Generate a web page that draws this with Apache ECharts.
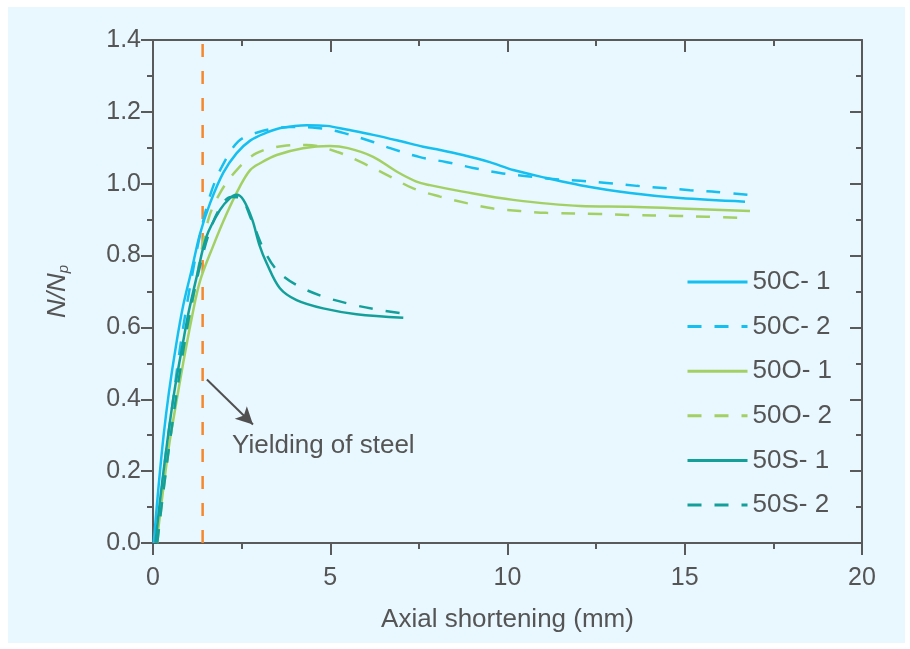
<!DOCTYPE html>
<html>
<head>
<meta charset="utf-8">
<script src="https://cdn.jsdelivr.net/npm/echarts@6/dist/echarts.min.js"></script>
<style>
  html, body { margin: 0; padding: 0; background: #ffffff; }
  #chart { width: 910px; height: 649px; }
</style>
</head>
<body>
<div id="chart"></div>
<script>
// Load ratio N/Np versus axial shortening (mm) for the six specimens
const seriesNames = ['50C- 1', '50C- 2', '50O- 1', '50O- 2', '50S- 1', '50S- 2'];

const c50_1 = [[0.02,0],[0.15,0.15],[0.3,0.3],[0.45,0.42],[0.65,0.55],[0.85,0.66],[1.09,0.76],[1.33,0.862],[1.61,0.946],[1.98,1.03],[2.36,1.085],[2.74,1.12],[3.2,1.142],[3.6,1.155],[4.34,1.163],[4.9,1.161],[5.5,1.15],[6.21,1.136],[7.0,1.118],[7.62,1.103],[8.1,1.094],[8.74,1.08],[9.5,1.06],[10.16,1.038],[11.1,1.016],[12.05,0.996],[13.46,0.974],[14.87,0.96],[16.7,0.95]];
const c50_2 = [[0.1,0],[0.25,0.15],[0.4,0.28],[0.53,0.37],[0.7,0.5],[0.9,0.63],[1.15,0.77],[1.4,0.89],[1.66,0.982],[1.94,1.047],[2.4,1.117],[2.92,1.142],[3.86,1.158],[4.63,1.155],[5.27,1.144],[6.21,1.116],[6.69,1.099],[7.53,1.074],[8.29,1.06],[9.03,1.044],[9.79,1.03],[10.55,1.021],[11.28,1.013],[12.05,1.008],[12.8,1.002],[13.65,0.994],[14.39,0.988],[15.15,0.982],[15.9,0.977],[16.9,0.968]];
const o50_1 = [[0.1,0],[0.25,0.12],[0.45,0.27],[0.62,0.37],[0.85,0.5],[1.1,0.63],[1.33,0.73],[1.69,0.825],[2.08,0.917],[2.45,0.992],[2.74,1.038],[3.02,1.057],[3.49,1.08],[4.23,1.099],[4.99,1.105],[5.5,1.099],[6.21,1.075],[6.87,1.034],[7.43,1.006],[7.81,0.996],[8.74,0.978],[10.16,0.955],[12.05,0.938],[13.46,0.936],[14.87,0.931],[16.84,0.924]];
const o50_2 = [[0.12,0],[0.3,0.15],[0.5,0.3],[0.7,0.43],[0.95,0.57],[1.2,0.72],[1.56,0.9],[1.89,0.974],[2.36,1.038],[2.92,1.085],[3.67,1.105],[4.34,1.108],[5.18,1.089],[5.93,1.057],[6.69,1.02],[7.34,0.987],[8.1,0.964],[8.85,0.946],[9.6,0.931],[10.35,0.924],[11.1,0.919],[12.61,0.916],[13.36,0.913],[14.87,0.91],[15.62,0.908],[16.8,0.904]];
const s50_1 = [[0.07,0],[0.2,0.12],[0.4,0.28],[0.6,0.42],[0.85,0.56],[1.0,0.64],[1.23,0.74],[1.51,0.853],[1.89,0.927],[2.15,0.958],[2.36,0.969],[2.55,0.955],[2.8,0.9],[3.0,0.83],[3.21,0.778],[3.58,0.709],[4.05,0.676],[4.8,0.653],[5.74,0.637],[7.06,0.627]];
const s50_2 = [[0.12,0],[0.3,0.15],[0.5,0.3],[0.75,0.47],[1.0,0.62],[1.3,0.76],[1.61,0.871],[1.94,0.941],[2.2,0.963],[2.45,0.961],[2.78,0.899],[3.11,0.82],[3.49,0.76],[4.05,0.718],[4.8,0.686],[5.56,0.665],[6.31,0.65],[7.2,0.637]];

// Steel yielding reference line and its annotation
const yieldX = 1.4;
const yieldLine = [[yieldX, 0], [yieldX, 1.4]];
const arrowFrom = [1.52, 0.455];
const arrowTo = [2.82, 0.33];
const noteAt = [2.23, 0.27];
const noteText = 'Yielding of steel';

const seriesData = [c50_1, c50_2, o50_1, o50_2, s50_1, s50_2];
const seriesColors = ['#15bff0', '#15bff0', '#a3d064', '#a3d064', '#13a09b', '#13a09b'];
const seriesDashed = [false, true, false, true, false, true];

const FONT = '"Liberation Sans", Arial, Helvetica, sans-serif';
const AXIS_COLOR = '#5a5a5a';
const TEXT_COLOR = '#555555';
const DASH = [14, 13];

const chart = echarts.init(document.getElementById('chart'), null, { renderer: 'canvas' });

const curves = seriesNames.map((name, i) => ({
  name: name,
  type: 'line',
  data: seriesData[i],
  smooth: 0.35,
  symbol: 'none',
  showSymbol: false,
  clip: true,
  z: 3,
  lineStyle: {
    color: seriesColors[i],
    width: 2.5,
    type: seriesDashed[i] ? DASH : 'solid'
  },
  itemStyle: { color: seriesColors[i] }
}));

const legendItems = seriesNames.map((name, i) => ({
  name: name,
  lineStyle: { width: 3, type: seriesDashed[i] ? DASH : 'solid' }
}));

const tickStyle = { color: AXIS_COLOR, width: 2 };

const option = {
  backgroundColor: '#ffffff',
  animation: false,
  textStyle: { fontFamily: FONT },
  graphic: [{
    type: 'rect',
    shape: { x: 8, y: 7, width: 897, height: 636 },
    style: { fill: '#e9f7fe' },
    z: -10,
    silent: true
  }],
  grid: { left: 153, right: 48, top: 40, bottom: 106, containLabel: false },
  legend: {
    data: legendItems,
    orient: 'vertical',
    left: 686,
    top: 269,
    padding: 0,
    itemWidth: 60,
    itemHeight: 26,
    itemGap: 18.6,
    itemStyle: { opacity: 0 },
    lineStyle: { width: 3 },
    textStyle: { fontSize: 26, color: TEXT_COLOR, fontFamily: FONT },
    selectedMode: false
  },
  xAxis: [{
    type: 'value',
    min: 0, max: 20, interval: 5,
    position: 'bottom',
    name: 'Axial shortening (mm)',
    nameLocation: 'middle',
    nameGap: 64,
    nameTextStyle: { fontSize: 26, color: TEXT_COLOR, fontFamily: FONT },
    axisLine: { show: true, onZero: false, lineStyle: tickStyle },
    axisTick: { show: true, length: 12, lineStyle: tickStyle },
    minorTick: { show: true, splitNumber: 2, length: 6, lineStyle: tickStyle },
    axisLabel: { fontSize: 25, color: TEXT_COLOR, margin: 23, fontFamily: FONT },
    splitLine: { show: false }
  }, {
    type: 'value',
    min: 0, max: 20, interval: 5,
    position: 'top',
    axisLine: { show: true, onZero: false, lineStyle: tickStyle },
    axisTick: { show: true, inside: true, length: 12, lineStyle: tickStyle },
    minorTick: { show: true, splitNumber: 2, length: 6, lineStyle: tickStyle },
    axisLabel: { show: false },
    splitLine: { show: false }
  }],
  yAxis: [{
    type: 'value',
    min: 0, max: 1.4, interval: 0.2,
    position: 'left',
    name: '{i|N/N}{sub|p}',
    nameLocation: 'middle',
    nameGap: 82,
    nameTextStyle: {
      rich: {
        i: { fontSize: 26, fontStyle: 'italic', color: TEXT_COLOR, fontFamily: FONT },
        sub: { fontSize: 15, fontStyle: 'italic', color: TEXT_COLOR, fontFamily: FONT, padding: [12, 0, 0, 0] }
      }
    },
    axisLine: { show: true, onZero: false, lineStyle: tickStyle },
    axisTick: { show: true, length: 12, lineStyle: tickStyle },
    minorTick: { show: true, splitNumber: 2, length: 6, lineStyle: tickStyle },
    axisLabel: {
      fontSize: 25, color: TEXT_COLOR, margin: 12, fontFamily: FONT,
      formatter: v => v.toFixed(1)
    },
    splitLine: { show: false }
  }, {
    type: 'value',
    min: 0, max: 1.4, interval: 0.2,
    position: 'right',
    axisLine: { show: true, onZero: false, lineStyle: tickStyle },
    axisTick: { show: true, inside: true, length: 12, lineStyle: tickStyle },
    minorTick: { show: true, splitNumber: 2, length: 6, lineStyle: tickStyle },
    axisLabel: { show: false },
    splitLine: { show: false }
  }],
  series: [{
    name: 'yield',
    type: 'line',
    data: yieldLine,
    symbol: 'none',
    z: 2,
    lineStyle: { color: '#f4882c', width: 2.5, type: [13, 14] },
    markLine: {
      silent: true,
      symbol: ['none', 'arrow'],
      symbolSize: [13, 17],
      label: { show: false },
      lineStyle: { color: '#505050', width: 2, type: 'solid' },
      data: [[{ coord: arrowFrom }, { coord: arrowTo }]]
    },
    markPoint: {
      silent: true,
      symbol: 'circle',
      symbolSize: 0,
      label: {
        show: true,
        position: 'right',
        distance: 0,
        formatter: noteText,
        fontSize: 26,
        color: TEXT_COLOR,
        fontFamily: FONT
      },
      data: [{ coord: noteAt }]
    }
  }].concat(curves)
};

chart.setOption(option);
</script>
</body>
</html>
